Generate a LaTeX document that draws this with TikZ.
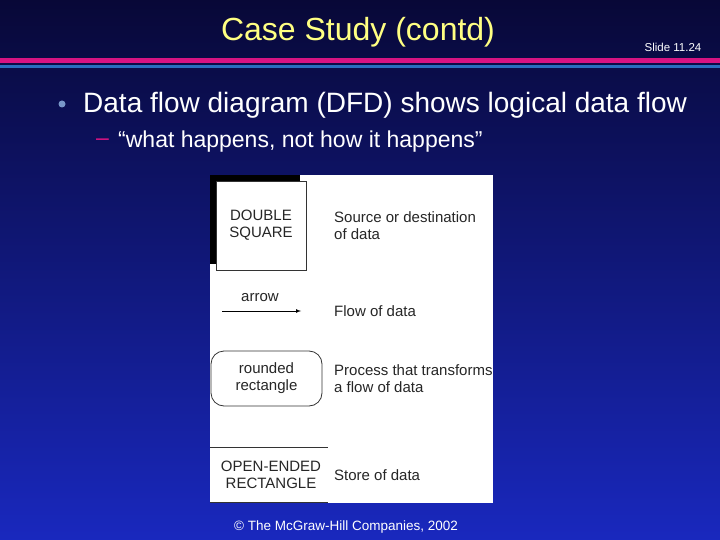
\documentclass[tikz,border=0pt]{standalone}
\usepackage{fontspec}
\setmainfont{Liberation Sans}
\definecolor{bgtop}{RGB}{8,8,55}
\definecolor{bgbot}{RGB}{25,40,190}
\definecolor{magband}{RGB}{215,20,130}
\definecolor{blueband}{RGB}{40,110,190}
\definecolor{titley}{RGB}{255,255,130}
\definecolor{bulletc}{RGB}{120,150,200}
\begin{document}
\begin{tikzpicture}[x=1pt,y=-1pt,
  lbl/.style={anchor=west,font=\fontsize{15}{17}\selectfont,align=left,text=black!85,inner sep=0},
  shp/.style={font=\fontsize{15}{17}\selectfont,align=center,text=black!85,inner sep=0}]
\useasboundingbox (0,0) rectangle (720,540);
\shade[top color=bgtop, bottom color=bgbot] (0,0) rectangle (720,540);
\fill[magband] (0,58) rectangle (720,63);
\fill[blueband] (0,65) rectangle (720,68);
\node[text=titley,font=\fontsize{32}{36}\selectfont] (title) at (358,32) {Case Study (contd)};
\node[text=white,font=\fontsize{11.5}{13}\selectfont] (slide) at (673,47) {Slide 11.24};
\fill[bulletc] (62,104) circle (3.5);
\node[anchor=west,text=white,font=\fontsize{28}{32}\selectfont,inner sep=0] (b1) at (83,105) {Data flow diagram (DFD) shows logical data flow};
\node[anchor=west,text=magband,font=\fontsize{23}{26}\selectfont,inner sep=0] (dash) at (96,142) {–};
\node[anchor=west,text=white,font=\fontsize{23}{26}\selectfont,inner sep=0] (b2) at (118,142) {“what happens, not how it happens”};
% figure
\fill[white] (210,175) rectangle (493,503);
\fill[black] (210,175) rectangle (300,264);
\node[draw=black!80,fill=white,line width=0.8pt,minimum width=90pt,minimum height=89pt,shp] (ds) at (261,225.5) {DOUBLE\\SQUARE};
\node[lbl] (l1) at (334,226) {Source or destination\\of data};
\node[shp] (arrlbl) at (260,298) {arrow};
\coordinate (a1) at (222,311);
\coordinate (a2) at (301,311);
\draw[-latex,line width=0.7pt] (a1) -- (a2);
\node[lbl] (l2) at (334,311) {Flow of data};
\node[draw=black!80,line width=0.8pt,rounded corners=13pt,minimum width=111pt,minimum height=55pt,shp] (rr) at (266.5,378.5) {rounded\\rectangle};
\node[lbl] (l3) at (334,379) {Process that transforms\\a flow of data};
\coordinate (o1) at (210,447);
\coordinate (o2) at (328,447);
\coordinate (o3) at (210,502);
\coordinate (o4) at (328,502);
\draw[line width=0.8pt,black!80] (o1) -- (o2) (o3) -- (o4);
\node[shp] (oe) at (271,475) {OPEN-ENDED\\RECTANGLE};
\node[lbl] (l4) at (334,475) {Store of data};
\node[text=white,font=\fontsize{13.5}{15}\selectfont] (copy) at (346,527) {© The McGraw-Hill Companies, 2002};
\end{tikzpicture}
\end{document}
